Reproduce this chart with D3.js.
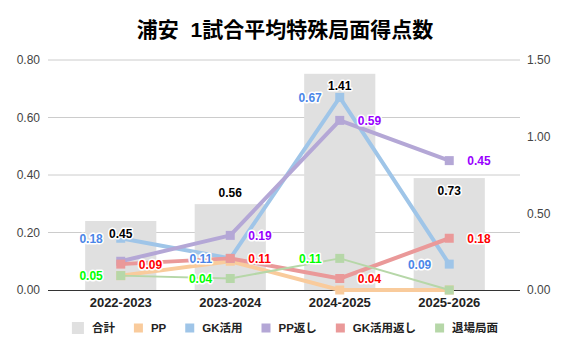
<!DOCTYPE html>
<html>
<head>
<meta charset="utf-8">
<script src="https://cdn.jsdelivr.net/npm/d3@7"></script>
<style>
  body { margin: 0; background: #fff; }
  text { font-family: "Liberation Sans", Arial, "Noto Sans CJK JP", sans-serif; }
  .halo { paint-order: stroke; stroke: #fff; stroke-width: 3px; stroke-linejoin: round; }
</style>
</head>
<body>
<svg id="chart"></svg>
<script>
let seasons = ['2022-2023', '2023-2024', '2024-2025', '2025-2026'];
let totals = [0.45, 0.56, 1.41, 0.73];
let pp = [0.05, 0.10, 0.00, 0.00];
let gk = [0.18, 0.11, 0.67, 0.09];
let ppBack = [0.10, 0.19, 0.59, 0.45];
let gkBack = [0.09, 0.11, 0.04, 0.18];
let exitPlay = [0.05, 0.04, 0.11, 0.00];
let leftTicks = [0, 0.2, 0.4, 0.6, 0.8];
let rightTicks = [0, 0.5, 1.0, 1.5];

let width = 570;
let height = 353;
let plotTop = 60, plotBottom = 290, plotLeft = 48, plotRight = 520;

let svg = d3.select('#chart').attr('width', width).attr('height', height);

// line series, drawn in order
let series = [
    {name: 'PP', values: pp, color: '#f9cb9c', labelColor: null, side: 0, w: 4, show: [0, 0, 0, 0]},
    {name: 'GK活用', values: gk, color: '#9fc5e8', labelColor: '#4a86e8', side: -1, w: 4, show: [1, 1, 1, 1]},
    {name: 'PP返し', values: ppBack, color: '#b4a7d6', labelColor: '#9900ff', side: 1, w: 4, show: [0, 1, 1, 1]},
    {name: 'GK活用返し', values: gkBack, color: '#ea9999', labelColor: '#ff0000', side: 1, w: 4, show: [1, 1, 1, 1]},
    {name: '退場局面', values: exitPlay, color: '#b6d7a8', labelColor: '#00ff00', side: -1, w: 2, show: [1, 1, 1, 0]}
];
let totalLabelPlace = ['in', 'out', 'in', 'in'];

let xScale = d3.scaleBand().domain(seasons).range([66, 504]).paddingInner(0.35).paddingOuter(0.175);
let yLeft = d3.scaleLinear().domain([0, 0.8]).range([plotBottom, plotTop]);
let yRight = d3.scaleLinear().domain([0, 1.5]).range([plotBottom, plotTop]);
let cx = (i) => xScale(seasons[i]) + xScale.bandwidth() / 2;

// title
svg.append('text')
    .attr('x', 285).attr('y', 37)
    .attr('text-anchor', 'middle')
    .style('white-space', 'pre')
    .attr('font-size', 21).attr('font-weight', 'bold').attr('fill', '#000')
    .text('浦安  1試合平均特殊局面得点数');

// gridlines
svg.append('g').selectAll('line')
    .data(leftTicks.slice(1))
    .enter().append('line')
    .attr('x1', plotLeft).attr('x2', plotRight)
    .attr('y1', d => yLeft(d)).attr('y2', d => yLeft(d))
    .attr('stroke', '#cccccc').attr('stroke-width', 1);

// axes
let leftAxis = svg.append('g')
    .attr('transform', 'translate(' + plotLeft + ',0)')
    .call(d3.axisLeft(yLeft).tickValues(leftTicks).tickFormat(d3.format('.2f')).tickSize(0).tickPadding(8));
let rightAxis = svg.append('g')
    .attr('transform', 'translate(' + plotRight + ',0)')
    .call(d3.axisRight(yRight).tickValues(rightTicks).tickFormat(d3.format('.2f')).tickSize(0).tickPadding(7));
[leftAxis, rightAxis].forEach(a => {
    a.select('.domain').remove();
    a.selectAll('text').attr('font-size', 12).attr('fill', '#444').style('font-family', '"Liberation Sans", Arial, sans-serif');
});

// bars
svg.append('g').selectAll('rect')
    .data(totals)
    .enter().append('rect')
    .attr('x', (d, i) => xScale(seasons[i]))
    .attr('width', xScale.bandwidth())
    .attr('y', d => yRight(d))
    .attr('height', d => plotBottom - yRight(d))
    .attr('fill', '#e0e0e0');

// baseline
svg.append('line')
    .attr('x1', plotLeft).attr('x2', plotRight)
    .attr('y1', plotBottom + 0.5).attr('y2', plotBottom + 0.5)
    .attr('stroke', '#333').attr('stroke-width', 1);

// x labels
let xAxis = svg.append('g')
    .attr('transform', 'translate(0,' + plotBottom + ')')
    .call(d3.axisBottom(xScale).tickSize(0).tickPadding(8));
xAxis.select('.domain').remove();
xAxis.selectAll('text').attr('font-size', 13).attr('font-weight', 'bold').attr('fill', '#222')
    .style('font-family', '"Liberation Sans", Arial, sans-serif');

// lines and markers
let line = d3.line().x((d, i) => cx(i)).y(d => yLeft(d));
series.forEach(s => {
    svg.append('path')
        .datum(s.values)
        .attr('d', line)
        .attr('fill', 'none')
        .attr('stroke', s.color)
        .attr('stroke-width', s.w)
        .attr('stroke-linejoin', 'round');
    svg.append('g').selectAll('rect')
        .data(s.values)
        .enter().append('rect')
        .attr('x', (d, i) => cx(i) - 4.5)
        .attr('y', d => yLeft(d) - 4.5)
        .attr('width', 9).attr('height', 9)
        .attr('fill', s.color);
});

// line labels
series.forEach(s => {
    if (!s.labelColor) return;
    svg.append('g').selectAll('text')
        .data(s.values.map((v, i) => ({v: v, i: i})).filter(d => s.show[d.i]))
        .enter().append('text')
        .attr('class', 'halo')
        .attr('x', d => cx(d.i) + s.side * 18)
        .attr('y', d => yLeft(d.v) + 4.5)
        .attr('text-anchor', s.side < 0 ? 'end' : 'start')
        .attr('font-size', 12).attr('font-weight', 'bold')
        .attr('fill', s.labelColor)
        .text(d => d.v.toFixed(2));
});

// total labels
svg.append('g').selectAll('text')
    .data(totals)
    .enter().append('text')
    .attr('class', 'halo')
    .attr('x', (d, i) => cx(i))
    .attr('y', (d, i) => yRight(d) + (totalLabelPlace[i] == 'in' ? 16.5 : -7.5))
    .attr('text-anchor', 'middle')
    .attr('font-size', 12).attr('font-weight', 'bold')
    .attr('fill', '#000')
    .attr('stroke', (d, i) => totalLabelPlace[i] == 'in' ? '#e0e0e0' : '#fff')
    .text(d => d.toFixed(2));

// legend
let legendItems = [{name: '合計', color: '#e0e0e0', size: 12}].concat(series.map(s => ({name: s.name, color: s.color, size: 9})));
let legend = svg.append('g');
let lx = 0;
legendItems.forEach(item => {
    let g = legend.append('g').attr('transform', 'translate(' + lx + ',0)');
    g.append('rect')
        .attr('x', 0).attr('y', -item.size / 2)
        .attr('width', item.size).attr('height', item.size)
        .attr('fill', item.color);
    let t = g.append('text')
        .attr('x', item.size + 8).attr('y', 4)
        .attr('font-size', 11.5).attr('font-weight', 'bold').attr('fill', '#222')
        .style('font-family', '"Liberation Sans", Arial, "Noto Sans CJK JP", sans-serif')
        .text(item.name);
    lx += item.size + 8 + t.node().getComputedTextLength() + 19;
});
let legendWidth = lx - 19;
legend.attr('transform', 'translate(' + (285 - legendWidth / 2) + ',328)');
</script>
</body>
</html>
